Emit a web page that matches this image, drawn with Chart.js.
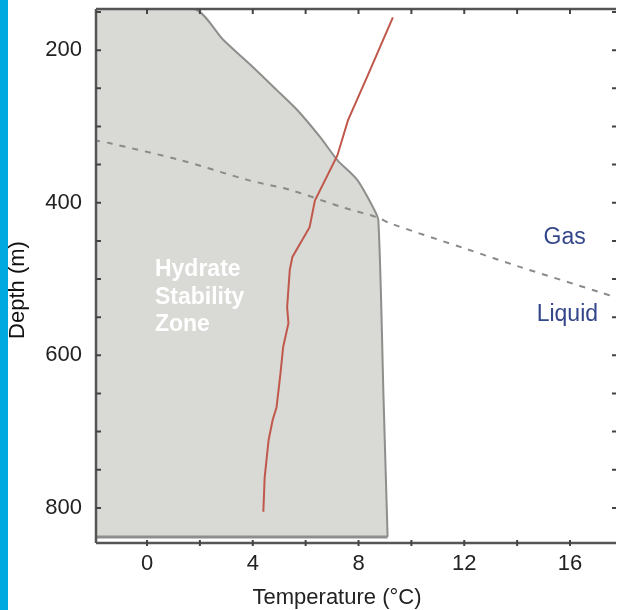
<!DOCTYPE html>
<html>
<head>
<meta charset="utf-8">
<script src="https://cdn.jsdelivr.net/npm/chart.js@4.4.1/dist/chart.umd.min.js"></script>
<style>
  html, body { margin: 0; padding: 0; background: #ffffff; }
  #wrap { position: relative; width: 617px; height: 610px; }
  #faixa { position: absolute; left: 0; top: 0; width: 8px; height: 610px; background: #00a9e0; }
  #grafico { position: absolute; left: 0; top: 0; }
</style>
</head>
<body>
<div id="wrap">
  <div id="faixa"></div>
  <canvas id="grafico" width="617" height="610"></canvas>
</div>
<script>
// perfil de temperatura da agua (linha vermelha)
const perfilTemp = [9.3, 8.35, 7.6, 7.2, 6.35, 6.15, 5.5, 5.4, 5.3, 5.35, 5.15, 5.05, 4.9, 4.75, 4.6, 4.45, 4.4];
const perfilProf = [157, 233, 292, 338, 397, 432, 471, 488, 537, 558, 589, 623, 668, 685, 711, 760, 805];

// limite da zona de estabilidade do hidrato
const zonaTemp = [-2, 1.8, 2.9, 4.0, 4.9, 5.7, 6.55, 7.2, 7.95, 8.55, 8.75, 8.95, 9.1];
const zonaProf = [146, 146, 187, 222, 252, 279, 314, 344, 370, 406, 423, 660, 838];
const zonaBase = 838;

// limite gas / liquido (tracejado)
const faseTemp = [-2, -1.4, 1.25, 3.8, 5.4, 7.4, 8.7, 9.2, 12.2, 14.1, 17.2, 17.8];
const faseProf = [318, 322, 344, 370, 383, 406, 419, 427, 462, 484, 518, 525];

// marcas dos eixos (com rotulo e menores)
const ticksX = [0, 4, 8, 12, 16];
const marcasX = [0, 2, 4, 6, 8, 10, 12, 14, 16];
const ticksY = [200, 400, 600, 800];
const marcasY = [150, 200, 250, 300, 350, 400, 450, 500, 550, 600, 650, 700, 750, 800];

const pontos = (xs, ys) => xs.map((x, i) => ({ x: x, y: ys[i] }));

const fonte = "'Liberation Sans', Arial, sans-serif";

const molduraPlugin = {
    id: 'moldura',
    afterDraw(chart) {
        const ctx = chart.ctx;
        const a = chart.chartArea;
        const sx = chart.scales.x, sy = chart.scales.y;
        ctx.save();
        ctx.strokeStyle = '#555555';
        ctx.lineWidth = 2.5;
        ctx.beginPath();
        ctx.moveTo(a.left, a.top); ctx.lineTo(a.right, a.top);
        ctx.moveTo(a.left, a.top); ctx.lineTo(a.left, a.bottom);
        ctx.moveTo(a.left, a.bottom); ctx.lineTo(a.right, a.bottom);
        ctx.stroke();
        ctx.lineWidth = 2;
        ctx.strokeStyle = '#444444';
        ctx.beginPath();
        sx.ticks.forEach(t => {
            const px = sx.getPixelForValue(t.value);
            ctx.moveTo(px, a.top); ctx.lineTo(px, a.top + 5);
            ctx.moveTo(px, a.bottom - 3); ctx.lineTo(px, a.bottom + 3);
        });
        sy.ticks.forEach(t => {
            const py = sy.getPixelForValue(t.value);
            ctx.moveTo(a.left, py); ctx.lineTo(a.left + 5, py);
            ctx.moveTo(a.right, py); ctx.lineTo(a.right - 4, py);
        });
        ctx.stroke();

        // titulos dos eixos
        ctx.fillStyle = '#222222';
        ctx.font = '22px ' + fonte;
        ctx.textAlign = 'center';
        ctx.textBaseline = 'middle';
        ctx.fillText('Temperature (°C)', 337, 598);
        ctx.translate(18, 290);
        ctx.rotate(-Math.PI / 2);
        ctx.fillStyle = '#111111';
        ctx.fillText('Depth (m)', 0, 0);
        ctx.restore();
    }
};

const textosPlugin = {
    id: 'textos',
    afterDatasetsDraw(chart) {
        const ctx = chart.ctx;
        const sx = chart.scales.x, sy = chart.scales.y;
        ctx.save();
        ctx.textBaseline = 'middle';
        ctx.textAlign = 'left';
        ctx.fillStyle = '#ffffff';
        ctx.font = 'bold 23px ' + fonte;
        [['Hydrate', 488], ['Stability', 524], ['Zone', 560]].forEach(([txt, d]) => {
            ctx.fillText(txt, sx.getPixelForValue(0.3), sy.getPixelForValue(d));
        });
        ctx.textAlign = 'center';
        ctx.fillStyle = '#34468a';
        ctx.font = '23px ' + fonte;
        ctx.fillText('Gas', sx.getPixelForValue(15.8), sy.getPixelForValue(446));
        ctx.fillText('Liquid', sx.getPixelForValue(15.9), sy.getPixelForValue(547));
        ctx.restore();
    }
};

const ctx = document.getElementById('grafico').getContext('2d');
const meuGrafico = new Chart(ctx, {
    type: 'scatter',
    data: {
        datasets: [
            {
                label: 'Perfil',
                data: pontos(perfilTemp, perfilProf),
                showLine: true,
                borderColor: '#c0584c',
                borderWidth: 2,
                pointRadius: 0,
                tension: 0,
                order: 0
            },
            {
                label: 'Gas/Liquido',
                data: pontos(faseTemp, faseProf),
                showLine: true,
                borderColor: '#8a8a8a',
                borderWidth: 2,
                borderDash: [6, 7],
                pointRadius: 0,
                tension: 0.3,
                order: 1
            },
            {
                label: 'Base',
                data: pontos([zonaTemp[0], zonaTemp[zonaTemp.length - 1]], [zonaBase, zonaBase]),
                showLine: true,
                borderColor: '#8e8e8c',
                borderWidth: 3,
                pointRadius: 0,
                order: 2
            },
            {
                label: 'Zona',
                data: pontos(zonaTemp, zonaProf),
                showLine: true,
                borderColor: '#8e8e8c',
                borderWidth: 2,
                backgroundColor: '#d9d9d6',
                fill: { target: { value: zonaBase } },
                pointRadius: 0,
                tension: 0.25,
                order: 3
            }
        ]
    },
    options: {
        responsive: false,
        animation: false,
        layout: { padding: { top: 9, right: 1, left: 0, bottom: 0 } },
        plugins: { legend: { display: false }, tooltip: { enabled: false } },
        scales: {
            x: {
                type: 'linear',
                min: -1.93,
                max: 17.74,
                grid: { display: false },
                border: { display: false },
                afterBuildTicks: s => { s.ticks = marcasX.map(v => ({ value: v })); },
                ticks: {
                    padding: 0,
                    autoSkip: false,
                    maxRotation: 0,
                    color: '#222222',
                    font: { family: fonte, size: 22 },
                    callback: v => ticksX.includes(v) ? String(v) : ''
                },
                afterFit: s => { s.height = 67; s.paddingLeft = 0; s.paddingRight = 0; }
            },
            y: {
                type: 'linear',
                reverse: true,
                min: 146,
                max: 846,
                grid: { display: false },
                border: { display: false },
                afterBuildTicks: s => { s.ticks = marcasY.map(v => ({ value: v })); },
                ticks: {
                    padding: 6,
                    autoSkip: false,
                    color: '#222222',
                    font: { family: fonte, size: 22 },
                    callback: v => ticksY.includes(v) ? String(v) : ''
                },
                afterFit: s => { s.width = 96; s.paddingTop = 0; s.paddingBottom = 0; }
            }
        }
    },
    plugins: [molduraPlugin, textosPlugin]
});
</script>
</body>
</html>
